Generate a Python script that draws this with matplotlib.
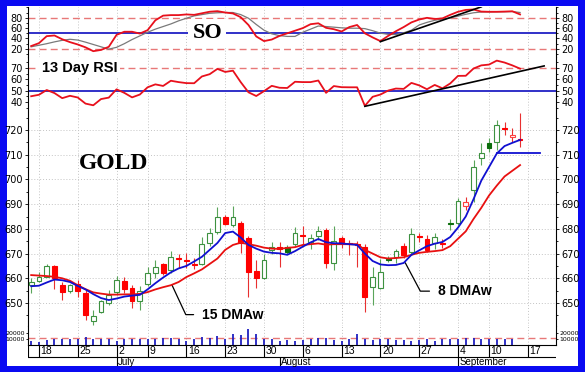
import matplotlib.pyplot as plt
from matplotlib.patches import Rectangle
from matplotlib.ticker import MultipleLocator

# trading days 15 Jun - 14 Sep 2007, index 0 = Jun 15 (Jul 4 and Sep 3 closed)
week_idx = [1, 6, 11, 15, 20, 25, 30, 35, 40, 45, 50, 55, 59, 64]
week_lbl = ['18', '25', '2', '9', '16', '23', '30', '6', '13', '20', '27', '4', '10', '17']
month_idx = [11, 32, 55]
month_lbl = ['July', 'August', 'September']

opens = [657.3, 658.9, 660.7, 665.0, 657.2, 655.0, 657.6, 654.0, 642.6, 646.2,
         650.0, 654.3, 659.0, 656.0, 650.8, 657.6, 662.0, 665.7, 663.2, 668.2,
         667.4, 665.7, 665.7, 674.2, 678.8, 684.9, 681.6, 682.2, 676.2, 663.0,
         660.0, 671.5, 672.5, 672.8, 673.7, 677.5, 674.5, 677.2, 679.5, 666.0,
         676.4, 674.4, 674.0, 672.8, 656.6, 656.2, 668.3, 668.7, 673.2, 670.8,
         677.0, 676.1, 674.1, 674.3, 682.4, 682.2, 689.2, 695.7, 708.5, 714.6,
         715.3, 720.9, 717.0, 716.2]
highs = [660.0, 662.6, 665.7, 665.5, 658.7, 657.8, 659.5, 655.3, 647.0, 651.4,
         655.4, 661.1, 660.5, 657.4, 656.8, 664.5, 667.4, 666.3, 671.2, 670.0,
         670.2, 668.3, 676.6, 680.2, 688.8, 685.5, 689.3, 683.0, 677.0, 667.5,
         670.0, 674.8, 674.5, 673.5, 680.6, 681.3, 678.0, 681.3, 680.2, 681.1,
         677.0, 675.5, 675.0, 674.0, 664.7, 667.9, 669.0, 672.0, 674.1, 680.2,
         678.2, 677.5, 678.2, 676.1, 684.0, 692.3, 693.0, 707.9, 714.6, 716.6,
         724.0, 723.4, 720.7, 726.7]
lows = [654.0, 658.7, 660.5, 655.8, 651.3, 654.2, 652.3, 643.3, 641.3, 645.8,
        649.0, 653.4, 654.0, 648.0, 647.0, 657.0, 660.3, 661.3, 662.3, 664.0,
        664.2, 663.6, 665.4, 672.9, 678.1, 681.4, 680.9, 670.1, 652.5, 656.0,
        659.7, 670.0, 664.7, 669.9, 673.2, 673.8, 672.0, 675.3, 664.0, 663.2,
        672.4, 669.4, 664.7, 646.5, 649.2, 655.5, 666.7, 666.0, 668.1, 669.8,
        674.8, 670.7, 672.0, 672.4, 679.5, 681.5, 687.6, 691.0, 705.8, 711.2,
        711.9, 718.0, 715.3, 713.2]
closes = [658.7, 660.5, 665.0, 660.0, 654.6, 657.2, 655.0, 645.3, 644.9, 650.7,
          653.4, 659.4, 655.6, 651.0, 655.0, 662.3, 664.5, 662.3, 668.5, 667.7,
          666.8, 665.2, 673.7, 678.2, 684.9, 681.8, 684.9, 674.2, 662.7, 660.2,
          667.4, 672.8, 672.0, 670.5, 678.2, 677.0, 676.5, 679.1, 666.0, 675.1,
          674.2, 673.8, 673.5, 652.5, 660.6, 662.7, 667.4, 671.0, 669.4, 677.8,
          676.6, 671.4, 676.8, 673.9, 682.0, 691.4, 691.0, 705.2, 710.6, 712.6,
          722.0, 720.5, 718.0, 715.8]
# g = hollow green, r = filled red, G = filled green, R = hollow red
kinds = "gggrrgrrggggrrgggrgrrrgggrgrrrggrGgrggrgrrrrggGgrgrrgrGgRggGgrRr"

dma15 = [661.3, 661.1, 660.9, 660.6, 660.0, 659.0, 657.2, 655.6, 654.3, 653.8,
         653.4, 653.4, 653.5, 653.5, 653.7, 654.4, 655.5, 656.4, 657.2, 658.5,
         660.5, 662.0, 663.6, 665.8, 668.0, 671.5, 673.5, 674.4, 673.8, 673.2,
         672.4, 672.0, 671.9, 672.3, 672.6, 673.5, 673.8, 674.1, 673.6, 673.8,
         673.8, 673.8, 673.8, 671.5, 670.0, 668.5, 668.0, 668.2, 668.5, 669.5,
         670.3, 670.7, 671.0, 671.4, 673.0, 676.0, 679.0, 684.0, 688.5, 693.5,
         697.5, 701.2, 703.5, 705.8]
dma8 = [656.8, 657.0, 658.3, 659.5, 659.2, 658.5, 656.9, 655.5, 653.6, 652.0,
        651.2, 651.8, 652.6, 653.0, 653.3, 655.5, 658.0, 660.3, 662.4, 664.0,
        665.0, 666.8, 668.7, 671.5, 674.3, 678.3, 678.9, 676.5, 673.5, 672.0,
        670.8, 670.3, 670.1, 669.5, 671.0, 672.8, 674.5, 675.9, 674.6, 674.2,
        674.1, 673.8, 673.5, 670.0, 667.0, 665.6, 665.3, 665.4, 666.2, 669.5,
        671.3, 673.0, 674.0, 674.7, 676.7, 680.5, 685.0, 692.0, 699.5, 705.0,
        710.5, 713.5, 714.8, 716.0]

so_k = [25.5, 31.0, 44.5, 45.8, 38.5, 33.0, 28.5, 23.0, 15.6, 18.0,
        24.0, 47.0, 53.0, 53.0, 49.5, 56.0, 75.0, 84.0, 85.0, 85.0,
        86.3, 85.5, 88.5, 91.5, 92.6, 90.0, 88.2, 81.0, 66.0, 44.0,
        35.0, 38.0, 45.0, 50.0, 55.0, 60.0, 67.5, 69.3, 60.5, 57.9,
        53.5, 62.0, 66.0, 50.0, 42.1, 35.0, 45.0, 54.0, 62.0, 71.0,
        76.5, 79.8, 77.5, 78.7, 85.5, 91.4, 95.0, 95.8, 91.8, 91.4,
        91.4, 91.8, 92.4, 86.3]
so_d = [24.0, 27.0, 30.0, 33.5, 36.5, 38.5, 37.0, 33.0, 28.5, 24.0,
        19.5, 23.0, 30.0, 38.0, 45.0, 52.0, 58.0, 63.0, 68.0, 74.0,
        79.0, 83.5, 86.0, 88.5, 89.5, 90.0, 90.0, 86.0, 79.0, 67.0,
        56.0, 49.0, 45.5, 44.0, 44.0, 52.0, 58.0, 64.0, 63.0, 61.8,
        60.5, 59.8, 59.8, 59.0, 55.0, 50.3, 48.0, 47.5, 51.0, 56.0,
        66.0, 71.0, 75.0, 77.5, 79.5, 83.0, 86.5, 89.5, 91.0, 91.2,
        91.4, 91.5, 91.8, 90.0]
rsi = [45.0, 46.3, 50.5, 47.8, 43.3, 45.4, 43.9, 38.5, 37.0, 42.5,
       43.8, 51.1, 48.0, 44.0, 46.5, 52.9, 55.5, 54.1, 58.7, 57.5,
       56.6, 56.5, 62.5, 64.5, 69.2, 66.5, 67.6, 57.5, 48.5, 45.2,
       49.5, 54.2, 52.5, 52.3, 57.8, 57.5, 57.5, 58.9, 48.0, 54.0,
       53.0, 52.9, 52.9, 36.5, 44.5, 46.5, 50.0, 51.8, 51.5, 56.8,
       54.6, 51.2, 55.0, 52.0, 56.3, 63.0, 63.1, 69.5, 72.3, 73.0,
       76.5, 74.8, 72.3, 69.4]
volume = [7000, 5400, 8100, 9200, 9200, 9800, 9200, 13600, 9800, 10800,
          10800, 7000, 9800, 10800, 10800, 10800, 9800, 11900, 12500, 9800,
          7000, 9800, 13600, 11900, 14600, 9800, 17900, 16300, 27100, 17900,
          10800, 9800, 7000, 8100, 7000, 8100, 9200, 11900, 11900, 8100,
          7000, 9200, 17900, 9800, 8100, 9200, 9800, 8100, 8100, 7000,
          8100, 9200, 7000, 9200, 9800, 10800, 11900, 11900, 9800, 10800,
          9800, 9200, 10800]
vol_avg = 11900

so_trend_x, so_trend_y = [45.0, 58.0], [33.9, 100.9]
rsi_trend_x, rsi_trend_y = [43.0, 66.1], [36.1, 71.8]
support_x, support_y = [60.0, 65.6], [710.5, 710.5]

W, H = 585, 372
XMIN, XMAX = -0.41, 67.63
GRID = dict(color='#c4c4c4', lw=0.7, ls=(0, (1, 2)), zorder=0)


def pbox(x0, y0, x1, y1):
    return [x0 / W, 1 - y1 / H, (x1 - x0) / W, (y1 - y0) / H]


def style(ax):
    ax.set_xlim(XMIN, XMAX)
    ax.set_xticks([])
    for s in ('top', 'bottom'):
        ax.spines[s].set_visible(False)
    for s in ('left', 'right'):
        ax.spines[s].set_linewidth(0.8)
    ax.tick_params(axis='y', which='both', direction='out', left=True, right=True,
                   labelleft=True, labelright=True, labelsize=7, pad=1.5,
                   length=2.5, width=0.6)
    ax.tick_params(axis='y', which='minor', length=1.5)
    for i in week_idx:
        ax.axvline(i, **GRID)


fig = plt.figure(figsize=(5.85, 3.72), dpi=100, facecolor='#0a0af2')
fig.patches.append(Rectangle((7 / W, 1 - 366 / H), 571 / W, 360 / H,
                             transform=fig.transFigure, facecolor='white',
                             edgecolor='none', zorder=-1))

x = list(range(len(closes)))

# --- stochastic oscillator
ax_so = fig.add_axes(pbox(28, 7, 556, 57))
style(ax_so)
ax_so.set_ylim(4.4, 100.6)
ax_so.set_yticks([20, 40, 60, 80])
ax_so.yaxis.set_minor_locator(MultipleLocator(10))
for v in (20, 80):
    ax_so.axhline(v, color='#e87878', lw=1, ls=(0, (5, 3)), zorder=1)
ax_so.axhline(50, color='#3030c8', lw=1.4, zorder=1)
ax_so.plot(x, so_d, color='#7a7a7a', lw=0.9, zorder=2)
ax_so.plot(x, so_k, color='#e8101c', lw=1.3, zorder=3)
ax_so.plot(so_trend_x, so_trend_y, color='black', lw=1.2, zorder=4)
ax_so.text(22.7, 50, 'SO', fontsize=16, fontweight='bold', family='Liberation Serif',
           ha='center', va='center', zorder=5,
           bbox=dict(facecolor='white', edgecolor='none', pad=3))

# --- RSI
ax_rsi = fig.add_axes(pbox(28, 57, 556, 108))
style(ax_rsi)
ax_rsi.set_ylim(34.6, 79.7)
ax_rsi.set_yticks([40, 50, 60, 70])
ax_rsi.yaxis.set_minor_locator(MultipleLocator(5))
ax_rsi.axhline(70, color='#e87878', lw=1, ls=(0, (5, 3)), zorder=1)
ax_rsi.axhline(50, color='#3030c8', lw=1.4, zorder=1)
ax_rsi.plot(x, rsi, color='#e8101c', lw=1.3, zorder=3)
ax_rsi.plot(rsi_trend_x, rsi_trend_y, color='black', lw=1.2, zorder=4)
ax_rsi.text(1.4, 70, '13 Day RSI', fontsize=10.5, fontweight='bold',
            family='Liberation Sans', ha='left', va='center', zorder=5,
            bbox=dict(facecolor='white', edgecolor='none', pad=2))

# --- price
ax_p = fig.add_axes(pbox(28, 108, 556, 326))
style(ax_p)
ax_p.set_ylim(640.7, 728.9)
ax_p.set_yticks(range(650, 721, 10))
ax_p.yaxis.set_minor_locator(MultipleLocator(5))
for v in range(650, 721, 10):
    ax_p.axhline(v, **GRID)

for i in x:
    k = kinds[i]
    o, c = opens[i], closes[i]
    wick = '#e83030' if k in 'rR' else '#5aa55a'
    ax_p.vlines(i, lows[i], highs[i], color=wick, lw=0.8, zorder=2)
    if k == 'g':
        fc, ec = 'white', '#3d9140'
    elif k == 'r':
        fc, ec = '#ff0000', '#ff0000'
    elif k == 'G':
        fc, ec = '#0b6e0b', '#0b6e0b'
    else:
        fc, ec = 'white', '#ff4040'
    ax_p.bar(i, max(abs(c - o), 0.5), bottom=min(o, c), width=0.62,
             facecolor=fc, edgecolor=ec, lw=0.8, zorder=3)

ax_p.plot(x, dma15, color='#e81010', lw=1.3, zorder=4)
ax_p.plot(x, dma8, color='#1010d0', lw=1.3, zorder=5)
ax_p.plot(support_x, support_y, color='#1010d0', lw=1.3, zorder=5)

ax_p.text(6.2, 706.5, 'GOLD', fontsize=17, fontweight='bold',
          family='Liberation Serif', ha='left', va='center')
arrow = dict(arrowstyle='-', color='black', lw=0.9, shrinkA=4, shrinkB=0,
             relpos=(0, 0.5))
ax_p.annotate('15 DMAw', xy=(18.14, 657.3), xytext=(22.0, 645.3),
              fontsize=10, fontweight='bold', family='Liberation Sans',
              ha='left', va='center',
              arrowprops=dict(connectionstyle='angle,angleA=0,angleB=-65,rad=0', **arrow))
ax_p.annotate('8 DMAw', xy=(48.2, 666.3), xytext=(52.4, 654.8),
              fontsize=10, fontweight='bold', family='Liberation Sans',
              ha='left', va='center',
              arrowprops=dict(connectionstyle='angle,angleA=0,angleB=-62,rad=0', **arrow))

# --- volume
ax_v = fig.add_axes(pbox(28, 326, 556, 345))
style(ax_v)
ax_v.set_ylim(0, 31700)
ax_v.set_yticks([10000, 20000])
ax_v.set_yticklabels(['10000', '20000'])
ax_v.tick_params(axis='y', labelsize=4.5, length=1.5, pad=1)
ax_v.axhline(vol_avg, color='#e87878', lw=1, ls=(0, (5, 3)), zorder=1)
ax_v.vlines(x[:len(volume)], 0, volume, color='#2020c0', lw=1.3, zorder=2)

# --- date axis
ax_d = fig.add_axes(pbox(28, 345, 556, 366))
ax_d.set_xlim(XMIN, XMAX)
ax_d.set_ylim(0, 1)
ax_d.axis('off')
ax_d.axhline(1, color='black', lw=0.8, clip_on=False)
ax_d.axhline(0.43, color='black', lw=0.8)
ax_d.vlines(week_idx + [XMIN], 0.43, 1, color='black', lw=0.8)
ax_d.vlines(month_idx, 0, 0.43, color='black', lw=0.8)
for i, t in zip(week_idx, week_lbl):
    ax_d.text(i + 0.2, 0.71, t, fontsize=7.5, family='Liberation Sans',
              ha='left', va='center')
for i, t in zip(month_idx, month_lbl):
    ax_d.text(i + 0.15, 0.2, t, fontsize=7, family='Liberation Sans',
              ha='left', va='center')

fig.savefig('out.png', dpi=100, facecolor=fig.get_facecolor())
